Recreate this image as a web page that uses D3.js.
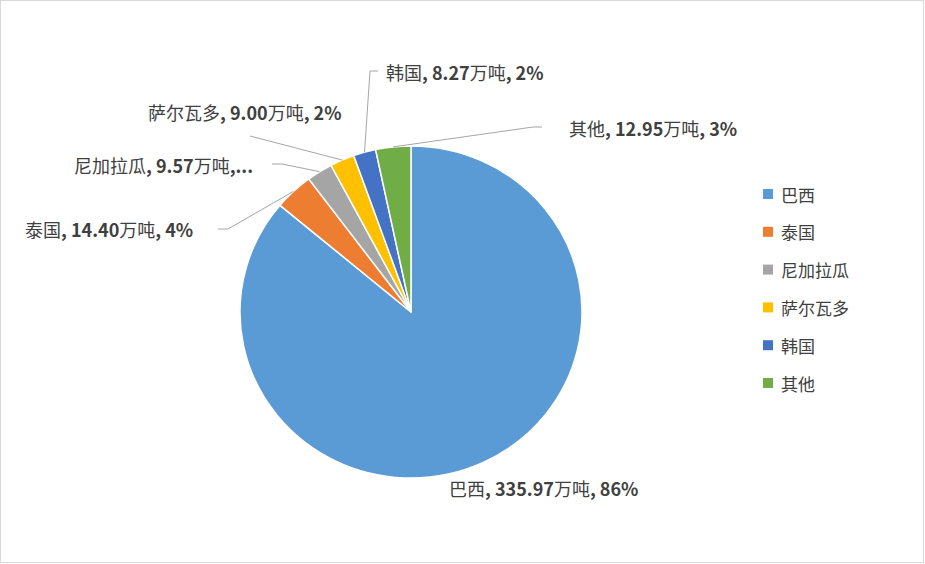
<!DOCTYPE html>
<html><head><meta charset="utf-8">
<script src="https://cdn.jsdelivr.net/npm/d3@7"></script>
<style>
html,body{margin:0;padding:0;background:#fff;}
svg{display:block;}
</style></head>
<body>
<svg id="chart" width="925" height="564"></svg>
<script>
const categories = ["巴西", "泰国", "尼加拉瓜", "萨尔瓦多", "韩国", "其他"];
const values = [335.97, 14.40, 9.57, 9.00, 8.27, 12.95];
const percents = ["86%", "4%", "2%", "2%", "2%", "3%"];
const colors = ["#5B9BD5", "#ED7D31", "#A5A5A5", "#FFC000", "#4472C4", "#70AD47"];
const unit = "万吨";

const svg = d3.select("#chart");
const W = 925, H = 564;
svg.append("rect").attr("x", 0.5).attr("y", 0.5).attr("width", W - 2).attr("height", H - 2)
  .attr("fill", "#fff").attr("stroke", "#D9D9D9").attr("stroke-width", 1);

const cx = 411, cy = 312, ry = 166, rx = 171;
const sx = rx / ry;
const pie = d3.pie().sort(null).value(d => d)(values);
const arc = d3.arc().innerRadius(0).outerRadius(ry);

const g = svg.append("g").attr("transform", `translate(${cx},${cy}) scale(${sx},1)`);
g.selectAll("path").data(pie).join("path")
  .attr("d", arc)
  .attr("fill", (d, i) => colors[i])
  .attr("stroke", "#fff").attr("stroke-width", 1.5)
  .attr("vector-effect", "non-scaling-stroke");

// label layout (position of text start, vertical middle, and leader elbow)
const labelLayout = [
  {x: 449, y: 488, elbow: null},
  {x: 25, y: 229, elbow: [[218, 229], [228, 229]]},
  {x: 74, y: 165, elbow: [[272, 164], [282, 164]]},
  {x: 148, y: 112, elbow: [[250, 136]]},
  {x: 386, y: 72, elbow: [[378, 71], [370, 71]]},
  {x: 569, y: 128, elbow: [[542, 127], [533, 127]]}
];

function outerPoint(d) {
  const a = (d.startAngle + d.endAngle) / 2;
  return [cx + rx * Math.sin(a), cy - ry * Math.cos(a)];
}

const lines = svg.append("g");
pie.forEach((d, i) => {
  const L = labelLayout[i];
  if (!L.elbow) return;
  const pts = L.elbow.concat([outerPoint(d)]);
  lines.append("path")
    .attr("d", d3.line()(pts))
    .attr("fill", "none").attr("stroke", "#A6A6A6").attr("stroke-width", 1);
});

const font = "'Noto Sans CJK SC', 'Noto Sans', sans-serif";
const labels = svg.append("g").attr("fill", "#404040").attr("font-family", font).attr("font-size", 18);
pie.forEach((d, i) => {
  const L = labelLayout[i];
  const t = labels.append("text").attr("x", L.x).attr("y", L.y).attr("dominant-baseline", "central");
  t.append("tspan").text(categories[i]);
  if (i === 2) {
    t.append("tspan").attr("font-weight", "bold").text(", " + values[i].toFixed(2));
    t.append("tspan").text(unit);
    t.append("tspan").attr("font-weight", "bold").text(",...");
  } else {
    t.append("tspan").attr("font-weight", "bold").text(", " + values[i].toFixed(2));
    t.append("tspan").text(unit);
    t.append("tspan").attr("font-weight", "bold").text(", " + percents[i]);
  }
});

// legend
const legend = svg.append("g").attr("font-family", font).attr("font-size", 17).attr("fill", "#404040");
const legendY = d3.scalePoint().domain(categories).range([194, 383]);
categories.forEach((c, i) => {
  const y = legendY(c);
  legend.append("rect").attr("x", 763).attr("y", y - 5).attr("width", 10).attr("height", 10).attr("fill", colors[i]);
  legend.append("text").attr("x", 781).attr("y", y).attr("dominant-baseline", "central").text(c);
});
</script>
</body></html>
